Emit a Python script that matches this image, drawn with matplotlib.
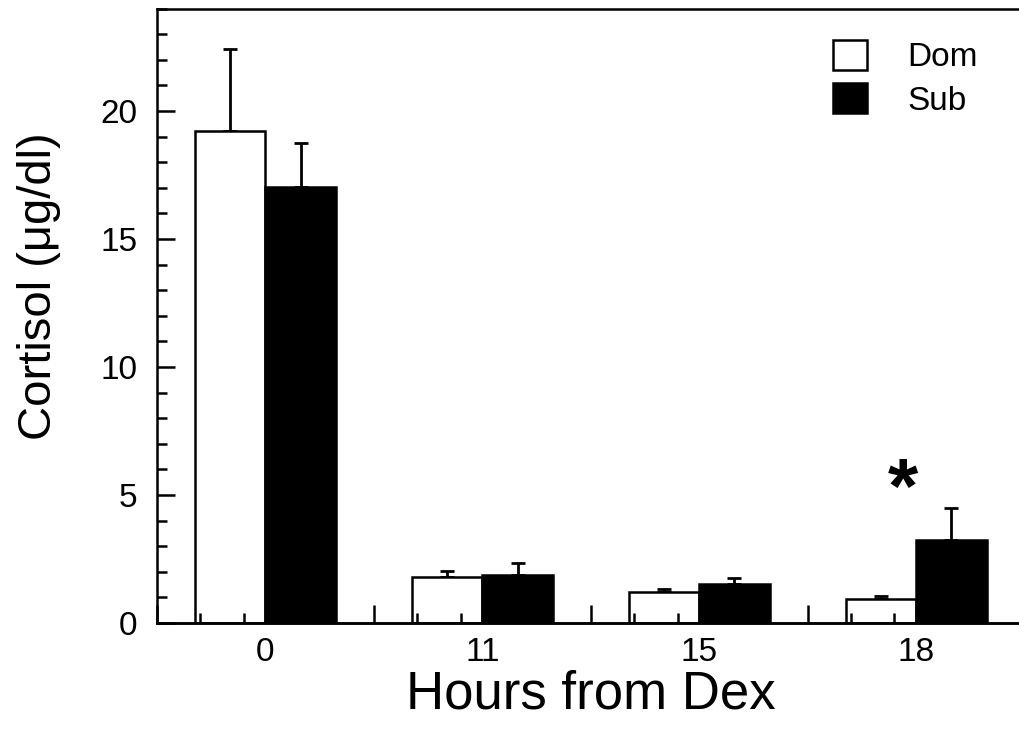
import matplotlib
matplotlib.use("Agg")
import matplotlib.pyplot as plt
import numpy as np
from matplotlib.ticker import MultipleLocator, FixedLocator, NullFormatter

plt.rcParams['font.family'] = ['Liberation Sans', 'DejaVu Sans']

# Data
categories = ["0", "11", "15", "18"]
dom_values = [19.22, 1.81, 1.20, 0.94]
dom_errors = [3.20, 0.23, 0.12, 0.13]
sub_values = [17.04, 1.87, 1.53, 3.24]
sub_errors = [1.72, 0.49, 0.23, 1.24]
series_labels = ["Dom", "Sub"]
significance_label = "*"
significance_group = 3

W, H = 1019, 730
fig = plt.figure(figsize=(W / 100, H / 100), dpi=100)
ax = fig.add_axes([157 / W, 1 - 623 / H, 4 * 216.9 / W, 614.4 / H])
ax.set_axisbelow(False)

centers = np.arange(len(categories)) + 0.5
bw = 0.325
lw = 1.8

ax.bar(centers - bw, dom_values, width=bw, align='edge', color='white',
       edgecolor='black', linewidth=lw, label=series_labels[0], zorder=1)
ax.bar(centers, sub_values, width=bw, align='edge', color='black',
       edgecolor='black', linewidth=lw, label=series_labels[1], zorder=1)

ekw = dict(fmt='none', ecolor='black', elinewidth=2.0, capsize=5, capthick=2.0, zorder=0.9)
ax.errorbar(centers - bw / 2, dom_values,
            yerr=[np.zeros(len(dom_errors)), dom_errors], **ekw)
ax.errorbar(centers + bw / 2, sub_values,
            yerr=[np.zeros(len(sub_errors)), sub_errors], **ekw)

ax.set_xlim(0, 4)
ax.set_ylim(0, 24)

# y ticks
ax.yaxis.set_major_locator(MultipleLocator(5))
ax.yaxis.set_minor_locator(MultipleLocator(1))
ax.tick_params(axis='y', which='major', direction='in', length=13, width=1.8,
               labelsize=24, pad=14, right=False)
ax.tick_params(axis='y', which='minor', direction='in', length=7, width=1.8, right=False)

# x tick labels at group centers (no tick mark); short ticks every 0.2
ax.set_xticks(centers)
ax.set_xticklabels(categories)
ax.tick_params(axis='x', which='major', direction='in', length=0, labelsize=24, pad=10, top=False)
minor_pos = [i * 0.2 for i in range(1, 20) if i % 5 != 0]
ax.xaxis.set_minor_locator(FixedLocator(minor_pos))
ax.xaxis.set_minor_formatter(NullFormatter())
ax.tick_params(axis='x', which='minor', direction='in', length=7, width=1.8, top=False)

# long x tick marks at group boundaries
sec = ax.secondary_xaxis('bottom')
sec.set_zorder(3)
sec.set_xticks([0, 1, 2, 3, 4])
sec.xaxis.set_major_formatter(NullFormatter())
sec.tick_params(which='major', direction='in', length=13, width=1.8)
sec.spines['bottom'].set_linewidth(1.8)

for s in ax.spines.values():
    s.set_linewidth(1.8)

ax.set_xlabel("Hours from Dex", fontsize=38, labelpad=1)
ax.set_ylabel("Cortisol (\u03bcg/dl)", fontsize=34)
ax.yaxis.set_label_coords(-0.111, 0.548)

ax.text(centers[significance_group] - 0.06, 5.1, significance_label,
        fontsize=56, fontweight='bold', ha='center', va='center')

leg = ax.legend(loc='upper left', bbox_to_anchor=(833 / W, 1 - 40 / H),
                bbox_transform=fig.transFigure, frameon=False, fontsize=24,
                handlelength=1.02, handleheight=1.0, handletextpad=1.2,
                labelspacing=0.3, borderpad=0, borderaxespad=0)
for p in leg.get_patches():
    p.set_linewidth(1.8)

fig.savefig("out.png", dpi=100)
